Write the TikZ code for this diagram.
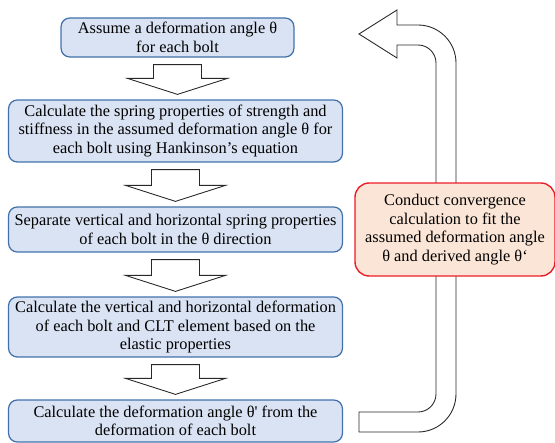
\documentclass[tikz,border=0pt]{standalone}
\usepackage{fontspec}
\setmainfont{Liberation Serif}
\usepackage{xcolor}
\definecolor{stepblue}{RGB}{218,227,243}
\definecolor{stepedge}{RGB}{65,113,170}
\definecolor{convfill}{RGB}{251,229,214}
\definecolor{convedge}{RGB}{235,30,40}
\definecolor{arrgray}{RGB}{40,40,40}
\usetikzlibrary{calc}

% hollow block arrow between two stacked boxes
\newcommand{\blockarrow}[2]{%
  \draw[blockarr] let \p1=($(#1.south)+(0,-0.14cm)$), \p2=($(#2.north)+(0,0.1cm)$) in
    (\x1-0.48cm,\y1) -- (\x1+0.48cm,\y1) -- (\x1+0.48cm,\y2+0.32cm) -- (\x1+1cm,\y2+0.32cm)
    -- (\x1,\y2) -- (\x1-1cm,\y2+0.32cm) -- (\x1-0.48cm,\y2+0.32cm) -- cycle;}

\begin{document}
\begin{tikzpicture}[x=0.02cm, y=0.02cm,
        stepbox/.style={rectangle, rounded corners=5pt, draw=stepedge, line width=0.7pt,
                        fill=stepblue, align=center, inner sep=0pt,
                        font=\fontsize{9.3}{10.5}\selectfont},
        convbox/.style={rectangle, rounded corners=8pt, draw=convedge, line width=0.8pt,
                        fill=convfill, align=center, inner sep=0pt,
                        minimum width=4cm, minimum height=1.86cm,
                        font=\fontsize{9.3}{10.5}\selectfont},
        blockarr/.style={draw=arrgray, fill=white, line width=0.5pt, line join=miter}
      ]
        \useasboundingbox (0,0) rectangle (555,443);

        % main flow
        \node[stepbox, minimum width=4.66cm, minimum height=0.78cm] (assume) at (177.5,405.5)
          {Assume a deformation angle θ\\for each bolt};
        \node[stepbox, minimum width=6.68cm, minimum height=1.24cm] (spring) at (175.5,312)
          {Calculate the spring properties of strength and\\stiffness in the assumed deformation angle θ for\\each bolt using Hankinson’s equation};
        \node[stepbox, minimum width=6.68cm, minimum height=0.9cm] (split) at (175.5,213.5)
          {Separate vertical and horizontal spring properties\\of each bolt in the θ direction};
        \node[stepbox, minimum width=6.68cm, minimum height=1.2cm] (deform) at (175.5,116)
          {Calculate the vertical and horizontal deformation\\of each bolt and CLT element based on the\\elastic properties};
        \node[stepbox, minimum width=6.68cm, minimum height=0.84cm] (derive) at (175.5,22)
          {Calculate the deformation angle θ\textquotesingle{} from the\\deformation of each bolt};

        \blockarrow{assume}{spring}
        \blockarrow{spring}{split}
        \blockarrow{split}{deform}
        \blockarrow{deform}{derive}

        % feedback loop back to the top
        \coordinate (tail) at (359,11);
        \draw[blockarr] (tail) -- (418,11) arc[start angle=-90, end angle=0, radius=0.76cm]
          -- (456,380) arc[start angle=0, end angle=90, radius=0.76cm]
          -- (397,418) -- (397,433) -- (359,409) -- (397,385) -- (397,398) -- (418,398)
          arc[start angle=90, end angle=0, radius=0.36cm]
          -- (436,49) arc[start angle=0, end angle=-90, radius=0.36cm]
          -- (359,31) -- cycle;

        \node[convbox] (conv) at (455,213.5)
          {Conduct convergence\\calculation to fit the\\assumed deformation angle\\θ and derived angle θ‘};
      \end{tikzpicture}
\end{document}
